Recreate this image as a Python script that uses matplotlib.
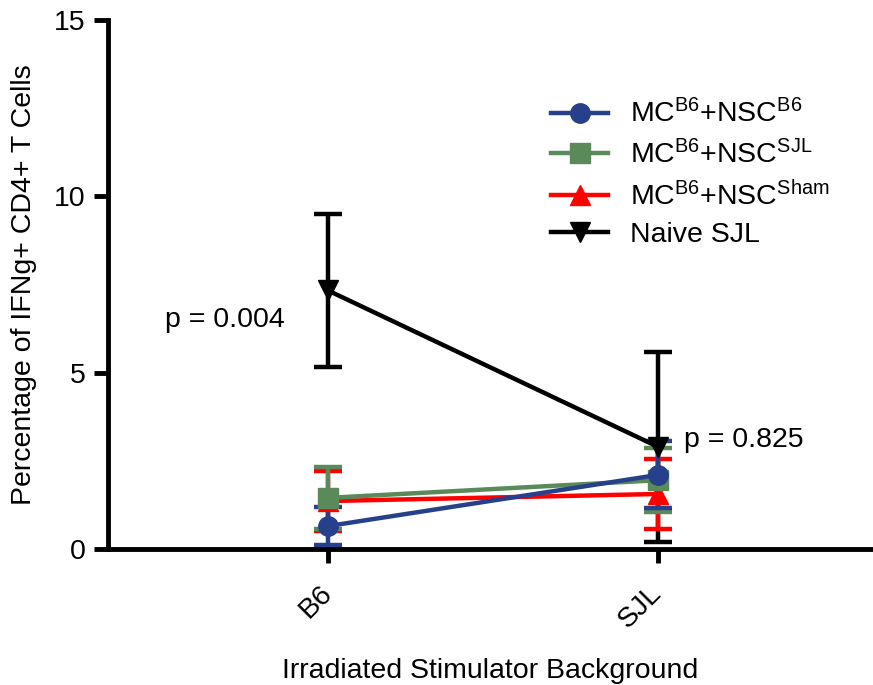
import matplotlib
matplotlib.use("Agg")
import matplotlib.pyplot as plt
from matplotlib.lines import Line2D

plt.rcParams["font.family"] = ["Liberation Sans", "DejaVu Sans"]
plt.rcParams["mathtext.fontset"] = "custom"
plt.rcParams["mathtext.rm"] = "Liberation Sans"
plt.rcParams["mathtext.it"] = "Liberation Sans"

categories = ["B6", "SJL"]

blue_mean = [0.65, 2.1]
blue_err = [0.55, 0.95]
green_mean = [1.45, 1.95]
green_err = [0.88, 0.9]
red_mean = [1.36, 1.56]
red_err = [0.85, 0.98]
naive_mean = [7.33, 2.9]
naive_err = [2.16, 2.7]

labels = [r"MC$^{\mathrm{B6}}$+NSC$^{\mathrm{B6}}$",
          r"MC$^{\mathrm{B6}}$+NSC$^{\mathrm{SJL}}$",
          r"MC$^{\mathrm{B6}}$+NSC$^{\mathrm{Sham}}$",
          "Naive SJL"]

fs = 20.5
fig = plt.figure(figsize=(8.73, 6.85), dpi=100)
ax = fig.add_axes([108 / 873, 1 - 549 / 685, 1 - 108 / 873, (549 - 20) / 685])

x = [0, 1]
lw = 3.2
cap = 10
series = [
    (naive_mean, naive_err, "black", "v", labels[3]),
    (red_mean, red_err, "#ff0000", "^", labels[2]),
    (green_mean, green_err, "#5a8a5a", "s", labels[1]),
    (blue_mean, blue_err, "#27408b", "o", labels[0]),
]
handles = {}
for mean, err, c, m, lab in series:
    ax.errorbar(x, mean, yerr=err, color=c, marker=m, markersize=14,
                lw=lw, elinewidth=lw, capsize=cap, capthick=lw,
                clip_on=False)
    handles[lab] = Line2D([], [], color=c, marker=m, markersize=14, lw=lw)

ax.legend([handles[l] for l in labels], labels, frameon=False, fontsize=fs,
          loc="upper left", bbox_to_anchor=(540 / 873, 1 - 88 / 685),
          bbox_transform=fig.transFigure, handlelength=2.0, labelspacing=0.4,
          handletextpad=0.75, borderaxespad=0)

ax.text(0 - 0.13, 6.5, "p = 0.004", fontsize=fs, ha="right", va="center")
ax.text(1 + 0.08, 3.1, "p = 0.825", fontsize=fs, ha="left", va="center")

ax.set_xlim(-0.667, 1.652)
ax.set_ylim(0, 15)
ax.set_yticks([0, 5, 10, 15])
ax.set_xticks(x)
ax.set_xticklabels(categories, rotation=45, ha="right", va="center",
                   rotation_mode="anchor")

for s in ["top", "right"]:
    ax.spines[s].set_visible(False)
for s in ["left", "bottom"]:
    ax.spines[s].set_linewidth(3.5)
ax.tick_params(axis="both", width=3.5, length=10, labelsize=fs)
ax.tick_params(axis="x", pad=19)
ax.tick_params(axis="y", pad=6)

ax.set_xlabel("Irradiated Stimulator Background", fontsize=fs, labelpad=18)
ax.set_ylabel("Percentage of IFNg+ CD4+ T Cells", fontsize=fs, labelpad=12)

fig.savefig("out.png", dpi=100)
